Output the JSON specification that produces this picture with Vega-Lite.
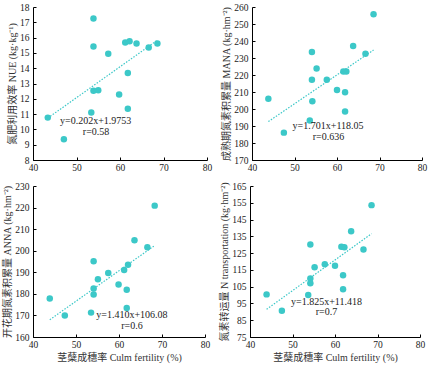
{
  "$schema": "https://vega.github.io/schema/vega-lite/v6.json",
  "padding": {"left": 2, "top": 2, "right": 4, "bottom": 2},
  "background": "white",
  "datasets": {
    "pts": [
      {"panel": "NUE", "x": 43.4, "y": 10.77}, {"panel": "NUE", "x": 47.1, "y": 9.35}, {"panel": "NUE", "x": 53.9, "y": 17.25}, {"panel": "NUE", "x": 53.9, "y": 15.42},
      {"panel": "NUE", "x": 53.9, "y": 12.52}, {"panel": "NUE", "x": 55.0, "y": 12.56}, {"panel": "NUE", "x": 53.4, "y": 11.10}, {"panel": "NUE", "x": 57.3, "y": 14.95},
      {"panel": "NUE", "x": 59.8, "y": 12.28}, {"panel": "NUE", "x": 61.2, "y": 15.68}, {"panel": "NUE", "x": 62.2, "y": 15.76}, {"panel": "NUE", "x": 61.8, "y": 13.68},
      {"panel": "NUE", "x": 61.8, "y": 11.35}, {"panel": "NUE", "x": 63.8, "y": 15.61}, {"panel": "NUE", "x": 66.6, "y": 15.35}, {"panel": "NUE", "x": 68.6, "y": 15.61},
      {"panel": "MANA", "x": 43.85, "y": 206.0}, {"panel": "MANA", "x": 47.5, "y": 186.1}, {"panel": "MANA", "x": 54.1, "y": 233.5}, {"panel": "MANA", "x": 54.1, "y": 217.2},
      {"panel": "MANA", "x": 54.2, "y": 204.6}, {"panel": "MANA", "x": 55.2, "y": 223.8}, {"panel": "MANA", "x": 53.6, "y": 193.2}, {"panel": "MANA", "x": 57.6, "y": 217.2},
      {"panel": "MANA", "x": 60.0, "y": 211.2}, {"panel": "MANA", "x": 61.5, "y": 222.1}, {"panel": "MANA", "x": 62.2, "y": 222.1}, {"panel": "MANA", "x": 61.9, "y": 209.9},
      {"panel": "MANA", "x": 61.9, "y": 198.5}, {"panel": "MANA", "x": 63.8, "y": 237.0}, {"panel": "MANA", "x": 66.7, "y": 232.5}, {"panel": "MANA", "x": 68.6, "y": 255.7},
      {"panel": "ANNA", "x": 43.9, "y": 177.9}, {"panel": "ANNA", "x": 47.4, "y": 170.0}, {"panel": "ANNA", "x": 54.1, "y": 195.1}, {"panel": "ANNA", "x": 54.1, "y": 182.5},
      {"panel": "ANNA", "x": 54.1, "y": 179.7}, {"panel": "ANNA", "x": 55.1, "y": 186.8}, {"panel": "ANNA", "x": 53.5, "y": 171.3}, {"panel": "ANNA", "x": 57.5, "y": 189.7},
      {"panel": "ANNA", "x": 59.9, "y": 184.3}, {"panel": "ANNA", "x": 61.2, "y": 191.1}, {"panel": "ANNA", "x": 62.1, "y": 193.5}, {"panel": "ANNA", "x": 61.8, "y": 181.9},
      {"panel": "ANNA", "x": 61.8, "y": 173.4}, {"panel": "ANNA", "x": 63.6, "y": 204.8}, {"panel": "ANNA", "x": 66.6, "y": 201.6}, {"panel": "ANNA", "x": 68.3, "y": 220.9},
      {"panel": "NT", "x": 43.9, "y": 100.4}, {"panel": "NT", "x": 47.5, "y": 90.7}, {"panel": "NT", "x": 54.2, "y": 130.2}, {"panel": "NT", "x": 54.2, "y": 109.9},
      {"panel": "NT", "x": 54.2, "y": 107.0}, {"panel": "NT", "x": 55.2, "y": 116.6}, {"panel": "NT", "x": 53.7, "y": 100.0}, {"panel": "NT", "x": 57.6, "y": 118.4},
      {"panel": "NT", "x": 60.0, "y": 117.4}, {"panel": "NT", "x": 61.5, "y": 128.8}, {"panel": "NT", "x": 62.2, "y": 128.5}, {"panel": "NT", "x": 61.9, "y": 111.8},
      {"panel": "NT", "x": 61.9, "y": 103.5}, {"panel": "NT", "x": 63.8, "y": 138.0}, {"panel": "NT", "x": 66.7, "y": 127.1}, {"panel": "NT", "x": 68.6, "y": 153.6}
    ],
    "fit": [
      {"panel": "NUE", "x": 43.4, "y": 10.74}, {"panel": "NUE", "x": 68.6, "y": 15.83},
      {"panel": "MANA", "x": 43.85, "y": 192.6}, {"panel": "MANA", "x": 68.6, "y": 234.7},
      {"panel": "ANNA", "x": 43.9, "y": 168.0}, {"panel": "ANNA", "x": 68.3, "y": 202.4},
      {"panel": "NT", "x": 43.9, "y": 91.5}, {"panel": "NT", "x": 68.6, "y": 136.6}
    ],
    "ann": [
      {"panel": "NUE", "x": 54.4, "y": 10.56, "label": "y=0.202x+1.9753"}, {"panel": "NUE", "x": 54.5, "y": 9.81, "label": "r=0.58"},
      {"panel": "MANA", "x": 57.9, "y": 190.0, "label": "y=1.701x+118.05"}, {"panel": "MANA", "x": 58.0, "y": 183.6, "label": "r=0.636"},
      {"panel": "ANNA", "x": 63.0, "y": 170.2, "label": "y=1.410x+106.08"}, {"panel": "ANNA", "x": 63.0, "y": 165.0, "label": "r=0.6"},
      {"panel": "NT", "x": 58.0, "y": 96.1, "label": "y=1.825x+11.418"}, {"panel": "NT", "x": 58.0, "y": 89.7, "label": "r=0.7"}
    ]
  },
  "config": {
    "view": {"stroke": null},
    "font": "Liberation Serif, Noto Sans CJK SC",
    "axis": {
      "grid": false, "domainColor": "black", "tickColor": "black", "tickSize": -3,
      "labelOverlap": false, "labelFlush": false,
      "labelColor": "#222", "labelFont": "Liberation Serif", "labelFontSize": 9.5,
      "titleFont": "Liberation Serif, Noto Sans CJK SC", "titleFontWeight": "normal", "titleFontSize": 10, "titleColor": "#333"
    },
    "axisX": {"labelPadding": 5, "titlePadding": 4},
    "axisY": {"labelPadding": 7, "titlePadding": 2},
    "circle": {"size": 42, "color": "#3CC8C8", "opacity": 1},
    "line": {"color": "#3CC8C8", "strokeDash": [1.5, 1.5], "strokeWidth": 1.2},
    "text": {"fontSize": 10, "color": "#222", "font": "Liberation Serif"},
    "concat": {"spacing": 9}
  },
  "vconcat": [
    {
      "hconcat": [
        {
          "width": 174, "height": 153,
          "encoding": {
            "x": {"field": "x", "type": "quantitative", "scale": {"domain": [40, 80]}, "axis": {"values": [40, 50, 60, 70, 80], "title": null}},
            "y": {"field": "y", "type": "quantitative", "scale": {"domain": [8, 18]}, "axis": {"values": [8, 9, 10, 11, 12, 13, 14, 15, 16, 17, 18], "title": "氮肥利用效率 NUE (kg·kg⁻¹)"}}
          },
          "layer": [
            {"data": {"name": "pts"}, "transform": [{"filter": "datum.panel === 'NUE'"}], "mark": "circle"},
            {"data": {"name": "fit"}, "transform": [{"filter": "datum.panel === 'NUE'"}], "mark": "line"},
            {"data": {"name": "ann"}, "transform": [{"filter": "datum.panel === 'NUE'"}], "mark": "text", "encoding": {"text": {"field": "label"}}}
          ]
        },
        {
          "width": 170, "height": 153,
          "encoding": {
            "x": {"field": "x", "type": "quantitative", "scale": {"domain": [40, 80]}, "axis": {"values": [40, 50, 60, 70, 80], "title": null}},
            "y": {"field": "y", "type": "quantitative", "scale": {"domain": [170, 260]}, "axis": {"values": [170, 180, 190, 200, 210, 220, 230, 240, 250, 260], "title": "成熟期氮素积累量 MANA (kg·hm⁻²)"}}
          },
          "layer": [
            {"data": {"name": "pts"}, "transform": [{"filter": "datum.panel === 'MANA'"}], "mark": "circle"},
            {"data": {"name": "fit"}, "transform": [{"filter": "datum.panel === 'MANA'"}], "mark": "line"},
            {"data": {"name": "ann"}, "transform": [{"filter": "datum.panel === 'MANA'"}], "mark": "text", "encoding": {"text": {"field": "label"}}}
          ]
        }
      ]
    },
    {
      "hconcat": [
        {
          "width": 172, "height": 151,
          "encoding": {
            "x": {"field": "x", "type": "quantitative", "scale": {"domain": [40, 80]}, "axis": {"values": [40, 50, 60, 70, 80], "title": "茎蘖成穗率 Culm fertility (%)"}},
            "y": {"field": "y", "type": "quantitative", "scale": {"domain": [160, 230]}, "axis": {"values": [160, 170, 180, 190, 200, 210, 220, 230], "title": "开花期氮素积累量 ANNA (kg·hm⁻²)"}}
          },
          "layer": [
            {"data": {"name": "pts"}, "transform": [{"filter": "datum.panel === 'ANNA'"}], "mark": "circle"},
            {"data": {"name": "fit"}, "transform": [{"filter": "datum.panel === 'ANNA'"}], "mark": "line"},
            {"data": {"name": "ann"}, "transform": [{"filter": "datum.panel === 'ANNA'"}], "mark": "text", "encoding": {"text": {"field": "label"}}}
          ]
        },
        {
          "width": 170, "height": 151,
          "encoding": {
            "x": {"field": "x", "type": "quantitative", "scale": {"domain": [40, 80]}, "axis": {"values": [40, 50, 60, 70, 80], "title": "茎蘖成穗率 Culm fertility (%)"}},
            "y": {"field": "y", "type": "quantitative", "scale": {"domain": [75, 165]}, "axis": {"values": [75, 85, 95, 105, 115, 125, 135, 145, 155, 165], "title": "氮素转运量 N transportation (kg·hm⁻²)"}}
          },
          "layer": [
            {"data": {"name": "pts"}, "transform": [{"filter": "datum.panel === 'NT'"}], "mark": "circle"},
            {"data": {"name": "fit"}, "transform": [{"filter": "datum.panel === 'NT'"}], "mark": "line"},
            {"data": {"name": "ann"}, "transform": [{"filter": "datum.panel === 'NT'"}], "mark": "text", "encoding": {"text": {"field": "label"}}}
          ]
        }
      ]
    }
  ]
}
